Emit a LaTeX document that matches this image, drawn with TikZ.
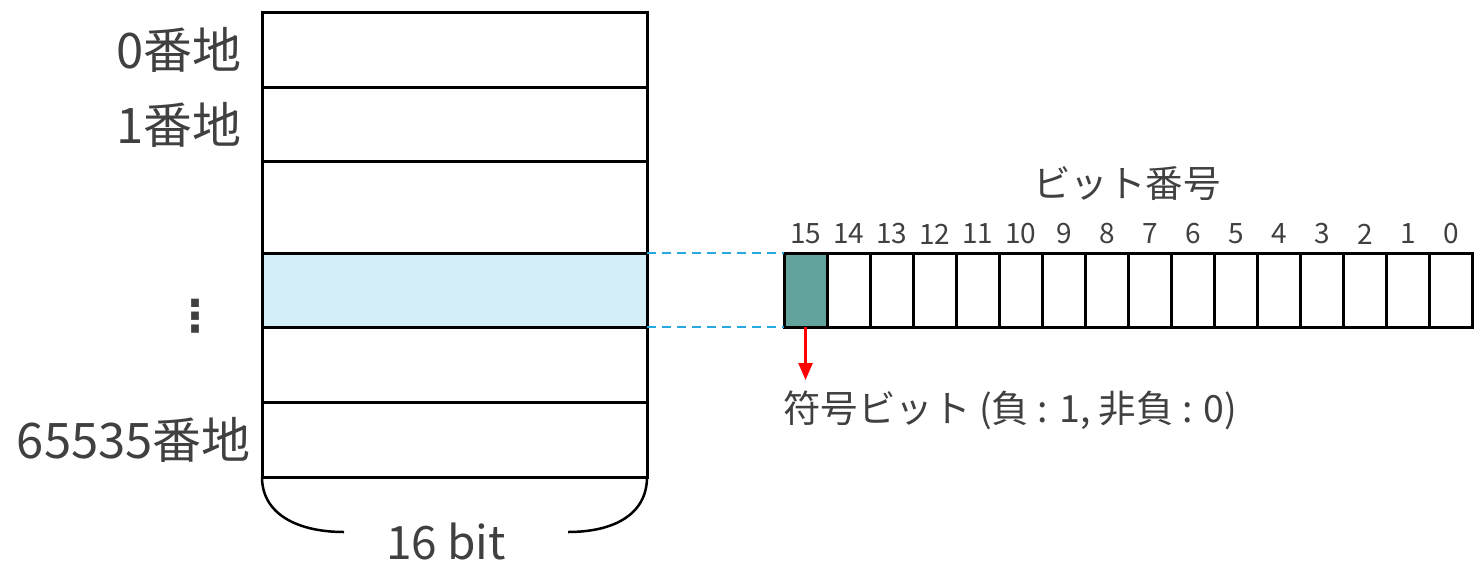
\documentclass[tikz,border=0pt]{standalone}
\usepackage{fontspec}
\setmainfont{Noto Sans CJK JP}
\newfontfamily\dejavu{DejaVu Sans}
\usetikzlibrary{arrows.meta,calc}
\definecolor{txt}{HTML}{404040}
\definecolor{hl}{HTML}{D4EEF8}
\definecolor{teal}{HTML}{62A39E}
\definecolor{dashblue}{HTML}{29A8E0}
\tikzset{
  cell/.style={draw=black, line width=3pt, rectangle, inner sep=0pt, outer sep=0pt, anchor=north west, minimum width=385pt},
  bitbox/.style={draw=black, line width=3pt, rectangle, inner sep=0pt, outer sep=0pt, anchor=north west, minimum width=43.06pt, minimum height=74pt},
  addr/.style={text=txt, font=\fontsize{49}{52}\selectfont, anchor=east, inner sep=0pt},
  bitnum/.style={text=txt, font=\fontsize{28}{30}\selectfont, inner sep=0pt},
  big/.style={text=txt, font=\fontsize{37.5}{40}\selectfont, inner sep=0pt},
  guide/.style={draw=dashblue, line width=2.2pt, dash pattern=on 9pt off 6pt}
}
\begin{document}
\begin{tikzpicture}[x=1pt,y=-1pt]
\useasboundingbox (0,0) rectangle (1475,563);
% memory rows
\node[cell, minimum height=75pt] (r0) at (262,12) {};
\node[cell, minimum height=74pt] (r1) at (262,87) {};
\node[cell, minimum height=92pt] (r2) at (262,161) {};
\node[cell, minimum height=74pt, fill=hl] (r3) at (262,253) {};
\node[cell, minimum height=75pt] (r4) at (262,327) {};
\node[cell, minimum height=75pt] (r5) at (262,402) {};
% address labels
\node[addr] (l0) at (242,50) {0番地};
\node[addr] (l1) at (242,125) {1番地};
\node[text=txt, font=\dejavu\bfseries\fontsize{44}{48}\selectfont, inner sep=0pt] (ld) at (195,316) {⋮};
\node[addr] (l5) at (251,440) {65535番地};
% brace
\coordinate (bl) at (344,532);
\coordinate (br) at (568,532);
\draw[line width=2.5pt] (r5.south west) .. controls ($(r5.south west)+(0,38)$) and ($(bl)+(-45,0)$) .. (bl);
\draw[line width=2.5pt] (r5.south east) .. controls ($(r5.south east)+(0,38)$) and ($(br)+(45,0)$) .. (br);
\node[text=txt, font=\fontsize{46}{50}\selectfont, inner sep=0pt] (w) at (446,541) {16 bit};
% bits
\foreach \i in {0,...,15}{
  \pgfmathsetmacro{\xx}{784+43.06*(15-\i)}
  \ifnum\i=15
    \node[bitbox, fill=teal] (b\i) at (\xx,253) {};
  \else
    \node[bitbox] (b\i) at (\xx,253) {};
  \fi
  \node[bitnum] (n\i) at ($(b\i.north)+(0,-19)$) {\i};
}
\node[big] (title) at (1127,184) {ビット番号};
% guides
\draw[guide] (r3.north east) -- (b15.north west);
\draw[guide] (r3.south east) -- (b15.south west);
% sign arrow
\coordinate (a0) at ($(b15.south)+(0,0)$);
\coordinate (a1) at ($(b15.south)+(0,53)$);
\draw[red, line width=2.5pt, -{Triangle[width=14pt,length=17pt]}] (a0) -- (a1);
\node[big, anchor=west] (sign) at (783,410) {符号ビット (負 : 1, 非負 : 0)};
\end{tikzpicture}
\end{document}
